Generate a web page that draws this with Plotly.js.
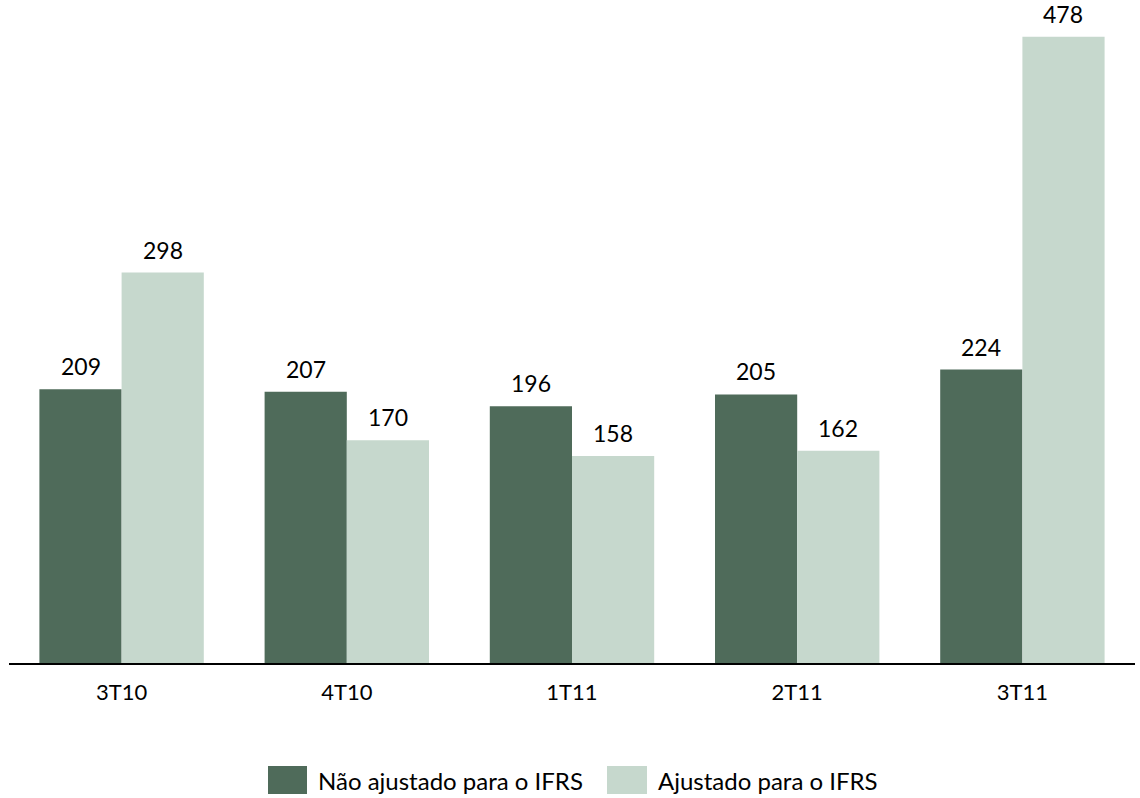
<!DOCTYPE html>
<html>
<head>
<meta charset="utf-8">
<script src="https://cdn.plot.ly/plotly-3.0.1.min.js"></script>
<style>
  html, body { margin: 0; padding: 0; background: #ffffff; }
  #chart { width: 1140px; height: 798px; }
</style>
</head>
<body>
<div id="chart"></div>
<script>
// Quarterly values, two series
const quarters = ['3T10', '4T10', '1T11', '2T11', '3T11'];
const naoAjustado = [209, 207, 196, 205, 224];
const ajustado = [298, 170, 158, 162, 478];
const seriesNames = ['Não ajustado para o IFRS', 'Ajustado para o IFRS'];
const seriesColors = ['#4f6b5a', '#c6d8cd'];

const FONT = 'Lato, "Open Sans", sans-serif';
const W = 1140, H = 798;
const M = { l: 9, r: 5, t: 8, b: 135 };
const plotH = H - M.t - M.b;
const plotW = W - M.l - M.r;
const BARGAP = 0.27;
// half of a single bar's width in pixels (two bars per category slot)
const halfBar = (plotW / quarters.length) * (1 - BARGAP) / 4;

const traces = [naoAjustado, ajustado].map((vals, i) => ({
  type: 'bar',
  name: seriesNames[i],
  x: quarters,
  y: vals,
  marker: { color: seriesColors[i], line: { width: 0 } },
  showlegend: false,
  hoverinfo: 'x+y'
}));

// Value labels above each bar
const valueNotes = [];
[naoAjustado, ajustado].forEach((vals, i) => {
  vals.forEach((v, k) => {
    valueNotes.push({
      xref: 'x', yref: 'y', x: quarters[k], y: v,
      xshift: (i === 0 ? -1 : 1) * halfBar, yshift: 7,
      xanchor: 'center', yanchor: 'bottom',
      text: String(v), showarrow: false,
      font: { family: FONT, size: 23, color: '#000000' }
    });
  });
});

// Legend drawn as swatches + labels below the axis
const legendShapes = [];
const legendNotes = [];
const swatchX = [[268, 307], [607, 647]];
const py = (pix) => (H - M.b - pix) / plotH;   // pixel row -> paper y
seriesNames.forEach((name, i) => {
  legendShapes.push({
    type: 'rect', xref: 'paper', yref: 'paper',
    x0: (swatchX[i][0] - M.l) / plotW, x1: (swatchX[i][1] - M.l) / plotW,
    y0: py(794), y1: py(766),
    fillcolor: seriesColors[i], line: { width: 0 }
  });
  legendNotes.push({
    xref: 'paper', yref: 'paper',
    x: (swatchX[i][1] + 9 - M.l) / plotW, y: py(780),
    xanchor: 'left', yanchor: 'middle',
    text: name, showarrow: false,
    font: { family: FONT, size: 24, color: '#000000' }
  });
});

const layout = {
  width: W,
  height: H,
  margin: M,
  paper_bgcolor: '#ffffff',
  plot_bgcolor: '#ffffff',
  barmode: 'group',
  bargap: BARGAP,
  bargroupgap: 0,
  font: { family: FONT, size: 22, color: '#000000' },
  xaxis: {
    type: 'category',
    showline: true, linecolor: '#000000', linewidth: 2,
    showgrid: false, zeroline: false,
    ticks: 'outside', ticklen: 9, tickcolor: 'rgba(0,0,0,0)',
    tickfont: { family: FONT, size: 22, color: '#000000' }
  },
  yaxis: {
    range: [0, 500],
    visible: false,
    showgrid: false, zeroline: false
  },
  shapes: legendShapes,
  annotations: valueNotes.concat(legendNotes)
};

Plotly.newPlot('chart', traces, layout, { displayModeBar: false, staticPlot: true });
</script>
</body>
</html>
